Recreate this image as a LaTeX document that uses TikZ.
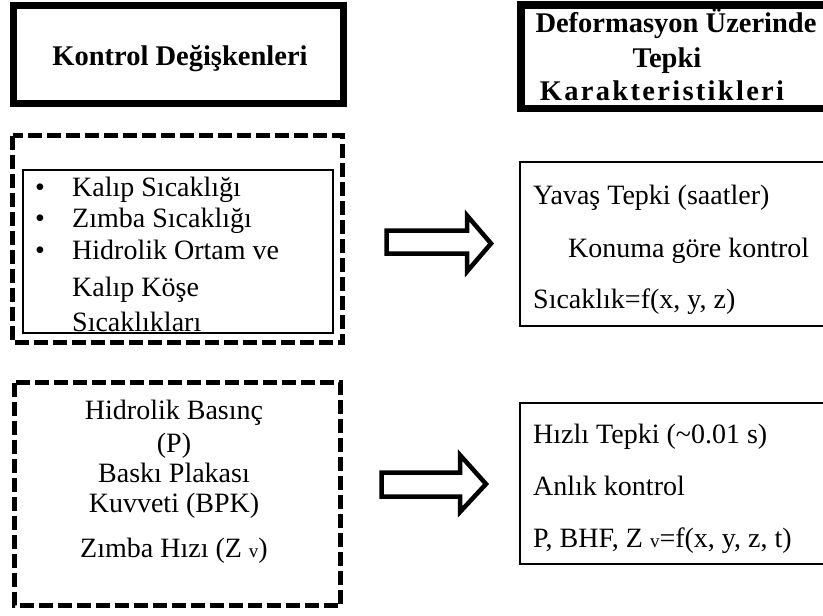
\documentclass[tikz,border=0pt]{standalone}
\usepackage{fontspec}
\setmainfont{Liberation Serif}
\newcommand{\ks}{\kern2.3pt}
\begin{document}
\begin{tikzpicture}[x=1pt,y=-1pt,
  heavybox/.style={draw=black,line width=7.5pt},
  dashbox/.style={draw=black,line width=5pt,dash pattern=on 14pt off 5pt},
  thinbox/.style={draw=black,line width=1.5pt},
  bigarrow/.style={draw=black,fill=white,line width=4.5pt,line join=miter},
  hd/.style={font=\fontsize{28.5}{30}\selectfont\bfseries,anchor=base,inner sep=0pt},
  tc/.style={font=\fontsize{28}{30}\selectfont,anchor=base,inner sep=0pt},
  tl/.style={font=\fontsize{28}{30}\selectfont,anchor=base west,inner sep=0pt}]
\useasboundingbox (0,0) rectangle (823,616);
\clip (0,0) rectangle (823,616);

% title boxes
\draw[heavybox] (13.5,5.5) rectangle (343.5,103.5);
\node[hd] (kd) at (180,65) {Kontrol Değişkenleri};
\draw[heavybox] (521,5) rectangle (860,108.5);
\node[hd] (t1) at (676,32) {Deformasyon Üzerinde};
\node[hd] (t2) at (667,67) {Tepki};
\node[hd] (t3) at (662,100) {K\ks a\ks r\ks a\ks k\ks t\ks e\ks r\ks i\ks s\ks t\ks i\ks k\ks l\ks e\ks r\ks i};

% dashed box 1
\draw[dashbox] (12.5,135.5) rectangle (342.5,342.5);
\draw[thinbox] (23,170) rectangle (333,333);
\node[tc] (b1) at (40,196) {•};
\node[tc] (b2) at (40,227) {•};
\node[tc] (b3) at (40,259) {•};
\node[tl] (l1) at (72,196) {Kalıp Sıcaklığı};
\node[tl] (l2) at (72,227) {Zımba Sıcaklığı};
\node[tl] (l3) at (72,259) {Hidrolik Ortam ve};
\node[tl] (l4) at (72,296) {Kalıp Köşe};
\node[tl] (l5) at (72,331) {Sıcaklıkları};

% dashed box 2
\draw[dashbox] (14.5,382.5) rectangle (340.5,605.5);
\node[tc] (m1) at (174,419) {Hidrolik Basınç};
\node[tc] (m2) at (174,452) {(P)};
\node[tc] (m3) at (174,482) {Baskı Plakası};
\node[tc] (m4) at (174,512) {Kuvveti (BPK)};
\node[tc] (m5) at (174,557) {Zımba Hızı (Z {\fontsize{19}{20}\selectfont v})};

% arrows
\draw[bigarrow] (386.5,230.5) -- (467,230.5) -- (467,215.5) -- (491,243.5)
  -- (467,271.5) -- (467,253.5) -- (386.5,253.5) -- cycle;
\draw[bigarrow] (381.5,472.5) -- (460,472.5) -- (460,455) -- (486,484)
  -- (460,512) -- (460,496.5) -- (381.5,496.5) -- cycle;

% response boxes
\draw[thinbox] (520,162) rectangle (860,326);
\node[tl] (r1) at (533,204) {Yavaş Tepki (saatler)};
\node[tl] (r2) at (568,257) {Konuma göre kontrol};
\node[tl] (r3) at (533,308) {Sıcaklık=f(x, y, z)};
\draw[thinbox] (520,403) rectangle (860,564);
\node[tl] (s1) at (533,443) {Hızlı Tepki (\textasciitilde0.01 s)};
\node[tl] (s2) at (533,495) {Anlık kontrol};
\node[tl] (s3) at (533,547) {P, BHF, Z {\fontsize{19}{20}\selectfont v}=f(x, y, z, t)};
\end{tikzpicture}
\end{document}
